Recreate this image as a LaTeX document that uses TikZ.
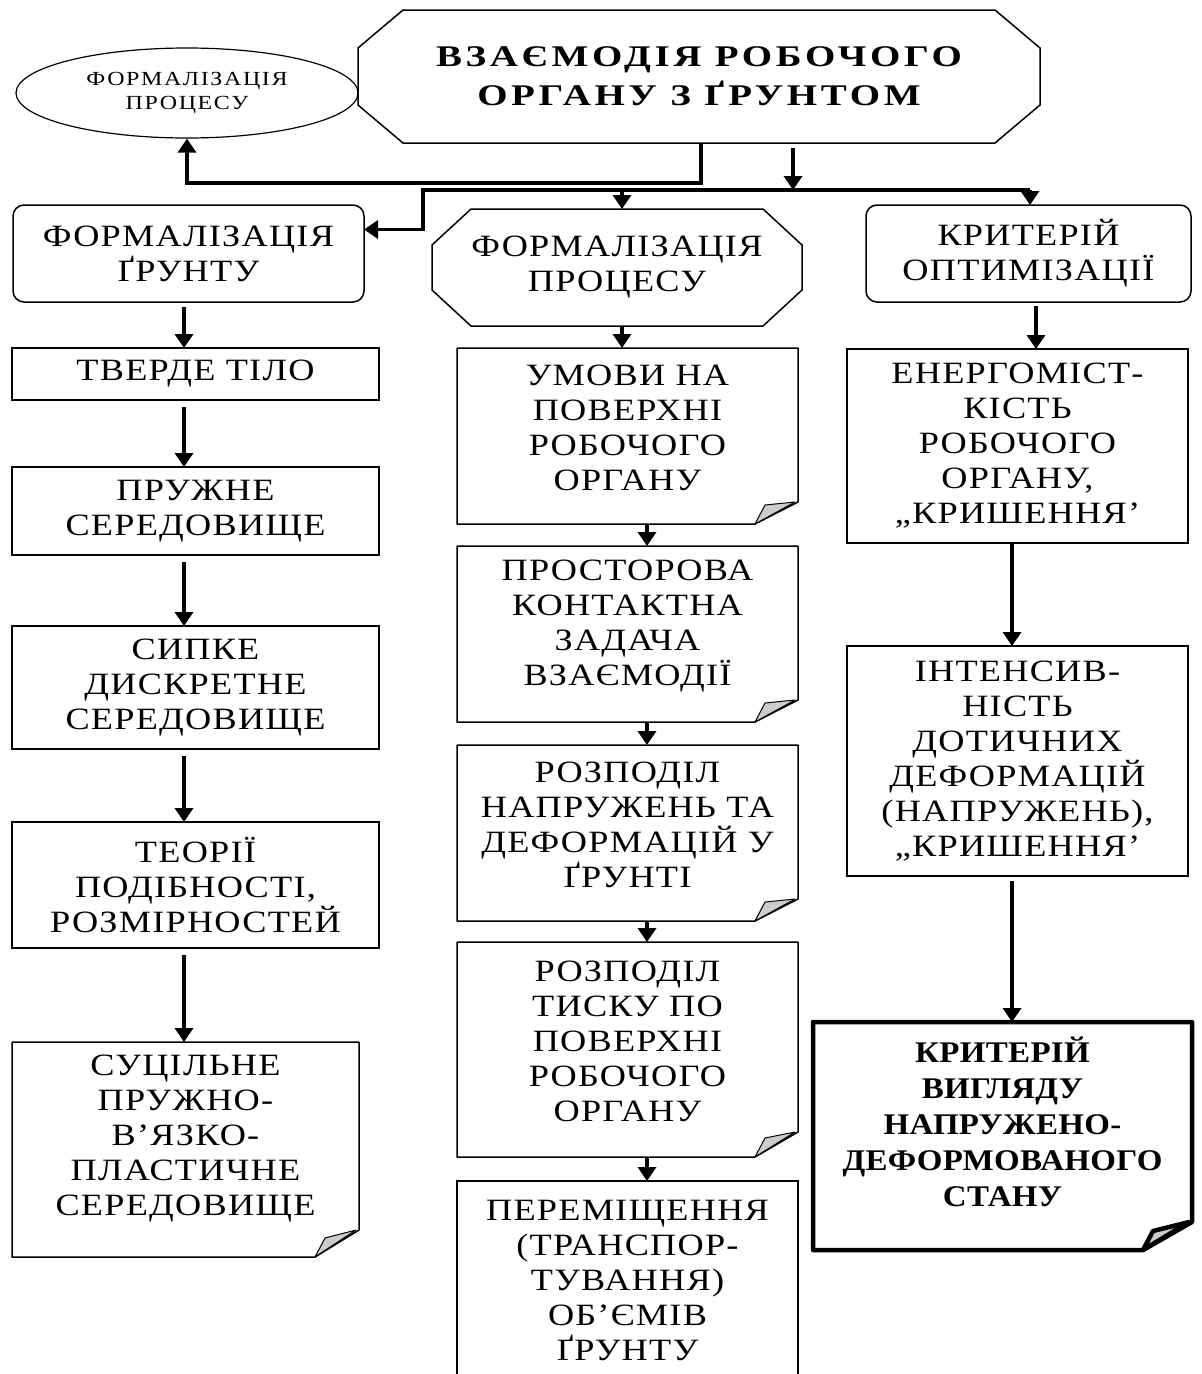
\documentclass[tikz,border=0pt]{standalone}
\usepackage{fontspec}
\setmainfont{Liberation Serif}[LetterSpace=4, FakeStretch=1.17]
\newfontfamily\headfont{Liberation Serif}[LetterSpace=12, FakeStretch=1.3]
\newfontfamily\ovalfont{Liberation Serif}[LetterSpace=8, FakeStretch=1.2]
\newfontfamily\stampfont{Liberation Serif}[LetterSpace=1, FakeStretch=1.1]
\usetikzlibrary{arrows.meta, shapes.geometric}

\tikzset{
  txt/.style={align=center, inner sep=0pt, outer sep=0pt, font=\fontsize{31}{35}\selectfont},
  plain/.style={draw, line width=1.5pt},
  roundbox/.style={plain, rounded corners=11pt},
  blank/.style={inner sep=0pt, outer sep=0pt},
  arr/.style={line width=3.5pt, -{Triangle[width=18pt,length=14pt]}},
}

% sheet with a curled corner: name, fold width, fold height
\newcommand\sheet[4][]{%
  \draw[line width=1.5pt, line join=round, #1] (#2.north west) -- (#2.north east)
    -- ([yshift=#4]#2.south east) -- ([xshift=-#3]#2.south east)
    -- (#2.south west) -- cycle;
  \draw[line width=1pt, line join=round, fill=gray!40, #1] ([xshift=-#3]#2.south east)
    -- ([xshift=-#3+10pt,yshift=19pt]#2.south east)
    -- ([xshift=-3pt,yshift=#4]#2.south east) -- cycle;}

% octagon round a node: name, chamfer width, chamfer height
\newcommand\octo[3]{%
  \draw[line width=1.5pt] ([xshift=#2]#1.north west) -- ([xshift=-#2]#1.north east)
    -- ([yshift=-#3]#1.north east) -- ([yshift=#3]#1.south east)
    -- ([xshift=-#2]#1.south east) -- ([xshift=#2]#1.south west)
    -- ([yshift=#3]#1.south west) -- ([yshift=-#3]#1.north west) -- cycle;}

\begin{document}
\begin{tikzpicture}[x=1pt, y=-1pt]
\useasboundingbox (0,0) rectangle (1202,1374);

%top row
\node[txt, blank, minimum width=682pt, minimum height=133pt,
  font=\headfont\bfseries\fontsize{30}{39}\selectfont] (top) at (699,76.5)
  {ВЗАЄМОДІЯ РОБОЧОГО\\ОРГАНУ З ҐРУНТОМ};
\octo{top}{45pt}{38pt}
\node[ellipse, draw, line width=1.2pt, minimum width=342pt, minimum height=90pt, inner sep=0pt,
  align=center, font=\ovalfont\fontsize{20}{24}\selectfont] (ell) at (187,93)
  {ФОРМАЛІЗАЦІЯ\\ПРОЦЕСУ};

\node[txt, roundbox, minimum width=351pt, minimum height=97pt] (fg) at (188.5,253.5) {ФОРМАЛІЗАЦІЯ\\ҐРУНТУ};
\node[txt, blank, minimum width=370pt, minimum height=117pt] (fp) at (617,267.5) {ФОРМАЛІЗАЦІЯ\\ПРОЦЕСУ};
\octo{fp}{39pt}{36pt}
\node[txt, roundbox, minimum width=325pt, minimum height=97pt] (ko) at (1028.5,253.5) {КРИТЕРІЙ\\ОПТИМІЗАЦІЇ};

%left column
\node[txt, plain, minimum width=367pt, minimum height=52pt] (tt) at (195.5,374) {ТВЕРДЕ ТІЛО};
\node[txt, plain, minimum width=367pt, minimum height=88pt] (ps) at (195.5,511) {ПРУЖНЕ\\СЕРЕДОВИЩЕ};
\node[txt, plain, minimum width=367pt, minimum height=123pt] (sd) at (195.5,687.5) {СИПКЕ\\ДИСКРЕТНЕ\\СЕРЕДОВИЩЕ};
\node[txt, plain, minimum width=367pt, minimum height=126pt] (tp) at (195.5,885) {ТЕОРІЇ\\ПОДІБНОСТІ,\\РОЗМІРНОСТЕЙ};
\node[blank, minimum width=347pt, minimum height=215pt] (sp) at (185.5,1149.5) {};
\sheet{sp}{44pt}{27pt}
\node[txt] (sp-t) at (185.5,1139) {СУЦІЛЬНЕ\\ПРУЖНО-\\В’ЯЗКО-\\ПЛАСТИЧНЕ\\СЕРЕДОВИЩЕ};

%middle column
\node[blank, minimum width=341pt, minimum height=176pt] (um) at (627.5,436) {};
\sheet{um}{43pt}{22pt}
\node[txt] (um-t) at (627.5,428) {УМОВИ НА\\ПОВЕРХНІ\\РОБОЧОГО\\ОРГАНУ};
\node[blank, minimum width=341pt, minimum height=176pt] (pk) at (627.5,634) {};
\sheet{pk}{43pt}{22pt}
\node[txt] (pk-t) at (627.5,626) {ПРОСТОРОВА\\КОНТАКТНА\\ЗАДАЧА\\ВЗАЄМОДІЇ};
\node[blank, minimum width=341pt, minimum height=176pt] (rn) at (627.5,833) {};
\sheet{rn}{43pt}{22pt}
\node[txt] (rn-t) at (627.5,824.5) {РОЗПОДІЛ\\НАПРУЖЕНЬ ТА\\ДЕФОРМАЦІЙ У\\ҐРУНТІ};
\node[blank, minimum width=341pt, minimum height=215pt] (rt) at (627.5,1049.5) {};
\sheet{rt}{43pt}{25pt}
\node[txt] (rt-t) at (627.5,1041) {РОЗПОДІЛ\\ТИСКУ ПО\\ПОВЕРХНІ\\РОБОЧОГО\\ОРГАНУ};
\node[txt, plain, minimum width=341pt, minimum height=198pt] (pt) at (627.5,1280)
  {ПЕРЕМІЩЕННЯ\\(ТРАНСПОР-\\ТУВАННЯ)\\ОБ’ЄМІВ\\ҐРУНТУ};

%right column
\node[txt, plain, minimum width=341pt, minimum height=194pt] (en) at (1017.5,446)
  {ЕНЕРГОМІСТ-\\КІСТЬ\\РОБОЧОГО\\ОРГАНУ,\\„КРИШЕННЯ’};
\node[txt, plain, minimum width=341pt, minimum height=230pt] (in) at (1017.5,761)
  {ІНТЕНСИВ-\\НІСТЬ\\ДОТИЧНИХ\\ДЕФОРМАЦІЙ\\(НАПРУЖЕНЬ),\\„КРИШЕННЯ’};
\node[blank, minimum width=379pt, minimum height=228pt] (kv) at (1002.5,1136) {};
\sheet[line width=4.5pt]{kv}{49pt}{28pt}
\node[txt, font=\stampfont\bfseries\fontsize{30}{36}\selectfont] (kv-t) at (1002.5,1122)
  {КРИТЕРІЙ\\ВИГЛЯДУ\\НАПРУЖЕНО-\\ДЕФОРМОВАНОГО\\СТАНУ};

%connectors
\coordinate (j) at (701,183);
\coordinate (b1) at (423,190);
\coordinate (b2) at (1030,190);
\coordinate (lc) at (184,0);
\coordinate (mc) at (647,0);
\coordinate (rc) at (1012,0);

\draw[arr] (top.south -| j) -- (j) -| (ell.south);
\draw[arr, shorten <=5pt] ([xshift=94pt]top.south) -- ([xshift=94pt]top.south |- b1);
\draw[arr] (b2) -- (b1) |- ([yshift=24pt]fg.east);
\draw[arr] ([xshift=5pt]fp.north |- b1) -- ([xshift=5pt]fp.north);
\draw[arr] (b2) -- (b2 |- ko.north);

\draw[arr, shorten <=5pt] (fg.south -| lc) -- (tt.north -| lc);
\foreach \a/\b in {tt/ps, ps/sd, sd/tp, tp/sp}
  \draw[arr, shorten <=7pt] (\a.south -| lc) -- (\b.north -| lc);

\draw[arr] ([xshift=5pt]fp.south) -- ([xshift=5pt]fp.south |- um.north);
\foreach \a/\b in {um/pk, pk/rn, rn/rt, rt/pt}
  \draw[arr] (\a.south -| mc) -- (\b.north -| mc);

\draw[arr, shorten <=4pt] ([xshift=7.5pt]ko.south) -- ([xshift=7.5pt]ko.south |- en.north);
\draw[arr] (en.south -| rc) -- (in.north -| rc);
\draw[arr, shorten <=5pt] (in.south -| rc) -- (kv.north -| rc);
\end{tikzpicture}
\end{document}
